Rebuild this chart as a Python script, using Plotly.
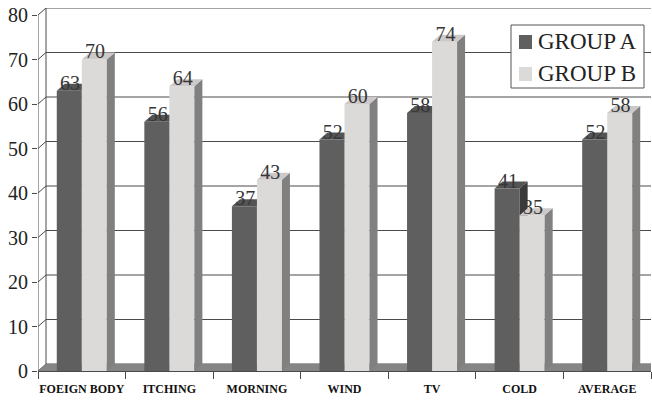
import plotly.graph_objects as go

# Survey data
categories = ["FOEIGN BODY", "ITCHING", "MORNING", "WIND", "TV", "COLD", "AVERAGE"]
group_a = [63, 56, 37, 52, 58, 41, 52]
group_b = [70, 64, 43, 60, 74, 35, 58]
y_ticks = [0, 10, 20, 30, 40, 50, 60, 70, 80]

# pseudo-3D depth offset, in data units (x: category units, y: value units)
DX = 0.0914
DY = 1.573
BAR_W = 0.2857          # two bars + 150% gap fill one category
Y_MAX = 80

SERIF = "Liberation Serif, Times New Roman, Times, serif"
AXIS_C = "#4a4a4a"

# plot-area geometry in pixels (used to place the legend box in paper coords)
W, H = 652, 401
M_L, M_R, M_T, M_B = 38, 1, 8, 30
PW, PH = W - M_L - M_R, H - M_T - M_B


def px_x(p):
    return (p - M_L) / PW


def px_y(p):
    return (H - M_B - p) / PH


series = [
    dict(name="GROUP A", values=group_a, offset=-BAR_W / 2,
         front="#5f5f5f", side="#3a3a3a", top="#545454"),
    dict(name="GROUP B", values=group_b, offset=BAR_W / 2,
         front="#dcd9d9", side="#808080", top="#cdc9c9"),
]


def face(xs, ys, color):
    """A filled polygon in data coordinates (one face of a 3D bar)."""
    return go.Scatter(x=xs, y=ys, fill="toself", fillcolor=color, mode="lines",
                      line=dict(width=0, color=color), showlegend=False,
                      hoverinfo="skip")


fig = go.Figure()

# floor of the box
n = len(categories)
fig.add_trace(face([0, n, n + DX, DX, 0], [0, 0, DY, DY, 0], "#858585"))

centers = [i + 0.5 for i in range(n)]

# bars are painted left to right so nearer faces cover hidden ones
for i in range(n):
    for s in series:
        v = s["values"][i]
        xc = centers[i] + s["offset"]
        x0, x1 = xc - BAR_W / 2, xc + BAR_W / 2
        fig.add_trace(face([x0, x1, x1, x0, x0], [0, 0, v, v, 0], s["front"]))
        fig.add_trace(face([x1, x1 + DX, x1 + DX, x1, x1],
                           [0, DY, v + DY, v, 0], s["side"]))
        fig.add_trace(face([x0, x1, x1 + DX, x0 + DX, x0],
                           [v, v, v + DY, v + DY, v], s["top"]))

# value labels above each bar
for s in series:
    fig.add_trace(go.Scatter(
        x=[c + s["offset"] + DX * 0.1 for c in centers],
        y=[v + 1.35 for v in s["values"]],
        text=[str(v) for v in s["values"]],
        mode="text", textposition="middle center",
        textfont=dict(family=SERIF, size=20, color="#363636"),
        cliponaxis=False, showlegend=False, hoverinfo="skip"))

shapes = []
# gridlines on the back wall plus connectors from the front axis
for t in y_ticks:
    shapes.append(dict(type="line", xref="x", yref="y", x0=DX, x1=n + DX,
                       y0=t + DY, y1=t + DY, line=dict(color=AXIS_C, width=1),
                       layer="below"))
    shapes.append(dict(type="line", xref="x", yref="y", x0=0, x1=DX,
                       y0=t, y1=t + DY, line=dict(color=AXIS_C, width=1),
                       layer="below"))
# back wall left edge and front value axis
shapes.append(dict(type="line", xref="x", yref="y", x0=DX, x1=DX, y0=DY,
                   y1=Y_MAX + DY, line=dict(color=AXIS_C, width=1), layer="below"))
shapes.append(dict(type="line", xref="x", yref="y", x0=0, x1=0, y0=0,
                   y1=Y_MAX, line=dict(color=AXIS_C, width=1), layer="below"))

# legend box with swatches and names
annotations = []
shapes.append(dict(type="rect", xref="paper", yref="paper",
                   x0=px_x(511), x1=px_x(644), y0=px_y(88), y1=px_y(25),
                   fillcolor="white", line=dict(color="#555555", width=1),
                   layer="above"))
for k, s in enumerate(series):
    cy = 42 + 32 * k
    shapes.append(dict(type="rect", xref="paper", yref="paper",
                       x0=px_x(519), x1=px_x(532), y0=px_y(cy + 7), y1=px_y(cy - 7),
                       fillcolor=s["front"], line=dict(width=0), layer="above"))
    annotations.append(dict(xref="paper", yref="paper", x=px_x(536), y=px_y(cy),
                            xanchor="left", yanchor="middle", showarrow=False,
                            text=s["name"],
                            font=dict(family=SERIF, size=23, color="#222222")))

fig.update_layout(
    width=W, height=H,
    margin=dict(l=M_L, r=M_R, t=M_T, b=M_B),
    paper_bgcolor="white", plot_bgcolor="white",
    shapes=shapes, annotations=annotations,
    showlegend=False,
    xaxis=dict(
        range=[0, n], tickmode="array", tickvals=centers, ticktext=categories,
        ticks="", showgrid=False, zeroline=False, ticklabelstandoff=7,
        showline=True, linecolor=AXIS_C, linewidth=1,
        tickfont=dict(family=SERIF, size=12, color="#111111", weight="bold"),
        minor=dict(tickmode="array", tickvals=list(range(n + 1)),
                   ticks="outside", ticklen=7, tickcolor=AXIS_C, tickwidth=1),
        fixedrange=True),
    yaxis=dict(
        range=[0, Y_MAX + DY], tickmode="array", tickvals=y_ticks,
        ticks="outside", ticklen=5, tickcolor=AXIS_C, tickwidth=1,
        showgrid=False, zeroline=False, showline=False,
        tickfont=dict(family=SERIF, size=20, color="#222222"),
        fixedrange=True),
)

fig.write_html("out.html")
